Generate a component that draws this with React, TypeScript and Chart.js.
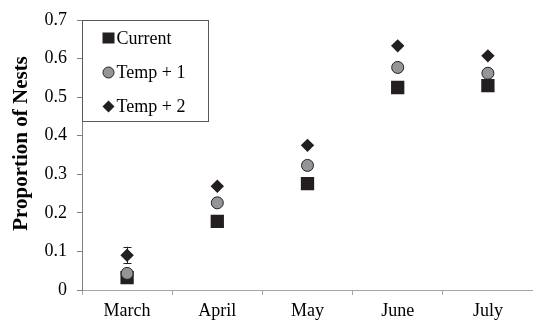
import React, { useEffect, useRef } from "react";
import { Chart, registerables } from "chart.js";

Chart.register(...registerables);

const months = ["March", "April", "May", "June", "July"];
const current = [0.032, 0.178, 0.276, 0.525, 0.53];
const temp1 = [0.043, 0.226, 0.323, 0.577, 0.562];
const temp2 = [0.09, 0.269, 0.375, 0.633, 0.607];
// error bar on Temp + 2 (only visible one)
const temp2ErrLow = [0.069, null, null, null, null];
const temp2ErrHigh = [0.112, null, null, null, null];
const yTicks = [0, 0.1, 0.2, 0.3, 0.4, 0.5, 0.6, 0.7];
const yTitle = "Proportion of Nests";
const legendLabels = ["Current", "Temp + 1", "Temp + 2"];

const DARK = "#231f20";
const GREY = "#939598";
const FONT = '"Liberation Serif", "Times New Roman", Times, serif';

const errorBarPlugin = {
  id: "errorBars",
  afterDatasetsDraw(chart: any) {
    const { ctx, scales } = chart;
    const xs = scales.x;
    const ys = scales.y;
    ctx.save();
    ctx.strokeStyle = DARK;
    ctx.lineWidth = 1;
    months.forEach((_, i) => {
      const lo = temp2ErrLow[i];
      const hi = temp2ErrHigh[i];
      if (lo == null || hi == null) return;
      const x = Math.round(xs.getPixelForValue(i)) + 0.5;
      const y1 = ys.getPixelForValue(lo);
      const y2 = ys.getPixelForValue(hi);
      ctx.beginPath();
      ctx.moveTo(x, y1);
      ctx.lineTo(x, y2);
      ctx.moveTo(x - 4, Math.round(y1) + 0.5);
      ctx.lineTo(x + 4, Math.round(y1) + 0.5);
      ctx.moveTo(x - 4, Math.round(y2) + 0.5);
      ctx.lineTo(x + 4, Math.round(y2) + 0.5);
      ctx.stroke();
    });
    ctx.restore();
  },
};

const titlePlugin = {
  id: "yTitle",
  afterDraw(chart: any) {
    const { ctx } = chart;
    ctx.save();
    ctx.translate(27, 143.5);
    ctx.rotate(-Math.PI / 2);
    ctx.font = `bold 21px ${FONT}`;
    ctx.fillStyle = "#000000";
    ctx.textAlign = "center";
    ctx.textBaseline = "alphabetic";
    ctx.fillText(yTitle, 0, 0);
    ctx.restore();
  },
};

const legendBoxPlugin = {
  id: "legendBox",
  afterDraw(chart: any) {
    const { ctx, chartArea } = chart;
    const left = chartArea.left + 0.5;
    const top = chartArea.top + 0.5;
    const w = 126;
    const h = 101;
    ctx.save();
    ctx.fillStyle = "#ffffff";
    ctx.fillRect(left, top, w, h);
    ctx.strokeStyle = "#595959";
    ctx.lineWidth = 1;
    ctx.strokeRect(left, top, w, h);
    ctx.font = `18px ${FONT}`;
    ctx.textBaseline = "middle";
    ctx.textAlign = "left";
    const ys = [top + 17.5, top + 52, top + 86];
    const sx = left + 26;
    legendLabels.forEach((label, i) => {
      const y = ys[i];
      ctx.fillStyle = DARK;
      ctx.strokeStyle = DARK;
      if (i === 0) {
        ctx.fillRect(sx - 6, y - 5.5, 12, 11);
      } else if (i === 1) {
        ctx.beginPath();
        ctx.arc(sx, y, 5.5, 0, Math.PI * 2);
        ctx.fillStyle = GREY;
        ctx.fill();
        ctx.lineWidth = 1;
        ctx.stroke();
      } else {
        ctx.beginPath();
        ctx.moveTo(sx - 6, y);
        ctx.lineTo(sx, y - 6);
        ctx.lineTo(sx + 6, y);
        ctx.lineTo(sx, y + 6);
        ctx.closePath();
        ctx.fill();
      }
      ctx.fillStyle = "#000000";
      ctx.fillText(label, sx + 8, y + 1);
    });
    ctx.restore();
  },
};

export default function App() {
  const ref = useRef<HTMLCanvasElement | null>(null);

  useEffect(() => {
    document.body.style.margin = "0";
    if (!ref.current) return;
    const chart = new Chart(ref.current, {
      type: "line",
      data: {
        labels: months,
        datasets: [
          {
            label: legendLabels[0],
            data: current,
            showLine: false,
            pointStyle: "rect",
            pointRadius: 9.4,
            pointBackgroundColor: DARK,
            pointBorderColor: DARK,
            pointBorderWidth: 0,
            order: 3,
          },
          {
            label: legendLabels[1],
            data: temp1,
            showLine: false,
            pointStyle: "circle",
            pointRadius: 6,
            pointBackgroundColor: GREY,
            pointBorderColor: DARK,
            pointBorderWidth: 1,
            order: 2,
          },
          {
            label: legendLabels[2],
            data: temp2,
            showLine: false,
            pointStyle: "rectRot",
            pointRadius: 6.7,
            pointBackgroundColor: DARK,
            pointBorderColor: DARK,
            pointBorderWidth: 0,
            order: 1,
          },
        ],
      },
      options: {
        animation: false,
        responsive: false,
        layout: { autoPadding: false, padding: { top: 20, right: 0, left: 0, bottom: 0 } },
        plugins: {
          legend: { display: false },
          tooltip: { enabled: false },
        },
        scales: {
          x: {
            type: "category",
            offset: true,
            grid: {
              offset: true,
              drawOnChartArea: false,
              drawTicks: true,
              tickLength: 5,
              color: "#a6a6a6",
            },
            border: { display: true, color: "#a6a6a6", width: 1 },
            ticks: {
              color: "#000000",
              font: { family: FONT, size: 18 },
              padding: 5,
              maxRotation: 0,
            },
            afterFit(scale: any) {
              scale.height = 32;
              scale.paddingLeft = 0;
              scale.paddingRight = 0;
            },
          },
          y: {
            min: 0,
            max: 0.7,
            afterBuildTicks(scale: any) {
              scale.ticks = yTicks.map((v) => ({ value: v }));
            },
            grid: {
              drawOnChartArea: false,
              drawTicks: true,
              tickLength: 5,
              color: "#808080",
            },
            border: { display: true, color: "#808080", width: 1 },
            ticks: {
              color: "#000000",
              font: { family: FONT, size: 18 },
              padding: 10,
              callback: (v: any) => String(Math.round(Number(v) * 10) / 10),
            },
            afterFit(scale: any) {
              scale.width = 82;
              scale.paddingTop = 0;
              scale.paddingBottom = 0;
            },
          },
        },
      },
      plugins: [errorBarPlugin, legendBoxPlugin, titlePlugin],
    });
    let alive = true;
    const fonts = (document as any).fonts;
    if (fonts) {
      Promise.all([
        fonts.load(`18px "Liberation Serif"`),
        fonts.load(`bold 21px "Liberation Serif"`),
      ])
        .catch(() => null)
        .then(() => {
          if (alive) chart.update();
        });
    }
    return () => {
      alive = false;
      chart.destroy();
    };
  }, []);

  return (
    <div style={{ width: 533, height: 322, position: "relative" }}>
      <span
        style={{
          position: "absolute",
          left: -9999,
          top: 0,
          fontFamily: FONT,
          fontSize: 18,
        }}
      >
        0.1 March <b>Nests</b>
      </span>
      <canvas ref={ref} width={533} height={322} style={{ width: 533, height: 322, display: "block" }} />
    </div>
  );
}
